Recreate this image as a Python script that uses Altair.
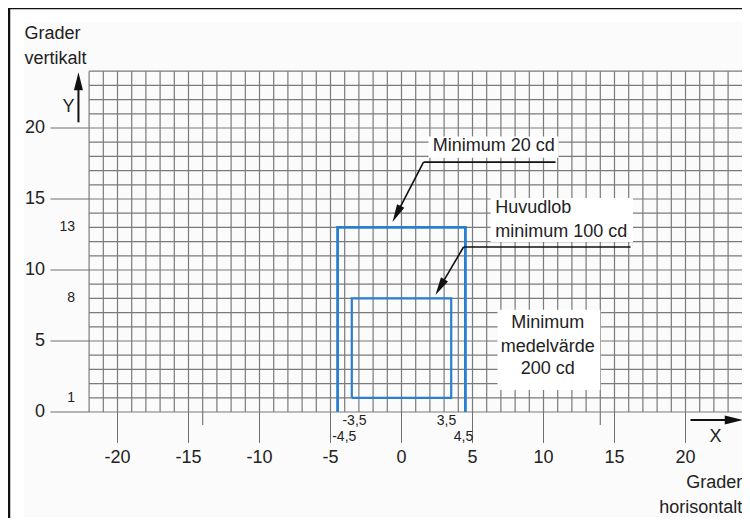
import altair as alt
import pandas as pd

# ---------------- data ----------------
X_TICKS = [-20, -15, -10, -5, 0, 5, 10, 15, 20]
Y_TICKS = [0, 5, 10, 15, 20]
Y_SMALL_LABELS = [1, 8, 13]
GRID_X = list(range(-22, 24))
GRID_Y = list(range(0, 25))
OUTER_X = [-4.5, -4.5, 4.5, 4.5]
OUTER_Y = [0, 13, 13, 0]
INNER_X = [-3.5, -3.5, 3.5, 3.5, -3.5]
INNER_Y = [1, 8, 8, 1, 1]
EDGE_TEXT = ["-3,5", "-4,5", "3,5", "4,5"]
EDGE_X = [-3.31, -4.03, 3.17, 4.37]
EDGE_Y = [-0.63, -1.76, -0.63, -1.76]

# label boxes (data coords)
BOX_X = [1.9, 6.27, 6.76]
BOX_X2 = [11.06, 16.3, 14.0]
BOX_Y = [19.4, 15.07, 7.2]
BOX_Y2 = [17.9, 11.97, 1.55]

# leader lines
LEAD_SEG_X = [1.55, 10.85, 1.55, -0.345, 4.37, 16.13, 4.37, 2.71]
LEAD_SEG_Y = [17.6, 17.6, 17.6, 13.94, 11.62, 11.62, 11.62, 8.79]
LEAD_SEG_ID = [0, 0, 1, 1, 2, 2, 3, 3]
ARROW_X = [-0.345, 2.71]
ARROW_Y = [13.94, 8.79]
ARROW_ANGLE = [207, 210]

W, H = 734, 510
X_DOM = [-393.5 / 14.2, (W - 393.5) / 14.2]
Y_DOM = [(404 - H) / 14.2, 404 / 14.2]

xs = alt.Scale(domain=X_DOM, nice=False, zero=False)
ys = alt.Scale(domain=Y_DOM, nice=False, zero=False)
FONT = "Liberation Sans"
TXT = "#222222"
GRID = "#7a7a7a"
BLUE = "#2a7fd0"


def X(f="x"):
    return alt.X(f"{f}:Q", scale=xs, axis=None)


def Y(f="y"):
    return alt.Y(f"{f}:Q", scale=ys, axis=None)


layers = []

# light background
layers.append(
    alt.Chart(pd.DataFrame({"a": [0]})).mark_rect(color="#fbfbfb").encode(
        x=alt.value(16), x2=alt.value(735), y=alt.value(14), y2=alt.value(509)
    )
)

# grid
gv = pd.DataFrame({"x": GRID_X, "y": 0, "y2": 24})
layers.append(alt.Chart(gv).mark_rule(color=GRID, strokeWidth=1.2).encode(
    x=X(), y=Y(), y2="y2:Q"))
gh = pd.DataFrame({"y": GRID_Y, "x": -22, "x2": 24.1})
layers.append(alt.Chart(gh).mark_rule(color=GRID, strokeWidth=1.2).encode(
    y=Y(), x=X(), x2="x2:Q"))

# extra short lines at ±14
ge = pd.DataFrame({"x": [-14, 14], "y": 0, "y2": -0.92})
layers.append(alt.Chart(ge).mark_rule(color=GRID, strokeWidth=1.2).encode(
    x=X(), y=Y(), y2="y2:Q"))

# axis tick lines
xt = pd.DataFrame({"x": X_TICKS, "y": 0, "y2": -2.18})
layers.append(alt.Chart(xt).mark_rule(color="#6f6f6f", strokeWidth=1).encode(
    x=X(), y=Y(), y2="y2:Q"))
yt = pd.DataFrame({"y": Y_TICKS, "x": -24.72, "x2": -22})
layers.append(alt.Chart(yt).mark_rule(color="#6f6f6f", strokeWidth=1).encode(
    y=Y(), x=X(), x2="x2:Q"))

# white label boxes
bx = pd.DataFrame({"x": BOX_X, "x2": BOX_X2, "y": BOX_Y, "y2": BOX_Y2})
layers.append(alt.Chart(bx).mark_rect(color="white").encode(
    x=X(), x2="x2:Q", y=Y(), y2="y2:Q"))

# blue rectangles
outer = pd.DataFrame({"x": OUTER_X, "y": OUTER_Y, "o": range(len(OUTER_X))})
layers.append(alt.Chart(outer).mark_line(color=BLUE, strokeWidth=2.8).encode(
    x=X(), y=Y(), order="o:Q"))
inner = pd.DataFrame({"x": INNER_X, "y": INNER_Y, "o": range(len(INNER_X))})
layers.append(alt.Chart(inner).mark_line(color=BLUE, strokeWidth=2.2).encode(
    x=X(), y=Y(), order="o:Q"))

# leader lines
ld = pd.DataFrame({"x": LEAD_SEG_X, "y": LEAD_SEG_Y, "id": LEAD_SEG_ID,
                   "o": range(len(LEAD_SEG_X))})
layers.append(alt.Chart(ld).mark_line(color="#111111", strokeWidth=1.6).encode(
    x=X(), y=Y(), detail="id:N", order="o:Q"))
ah = pd.DataFrame({"x": ARROW_X, "y": ARROW_Y, "a": ARROW_ANGLE})
layers.append(alt.Chart(ah).mark_point(
    shape="M0,-1L0.45,1L-0.45,1Z", filled=True, color="#111111", size=324, opacity=1
).encode(x=X(), y=Y(), angle=alt.Angle("a:Q", scale=None)))

# axis arrows
ya = pd.DataFrame({"x": [-22.75], "y": [20.4], "y2": [23.3]})
layers.append(alt.Chart(ya).mark_rule(color="#111111", strokeWidth=2).encode(
    x=X(), y=Y(), y2="y2:Q"))
layers.append(alt.Chart(pd.DataFrame({"x": [-22.75], "y": [23.3]})).mark_point(
    shape="M0,-1L0.5,1L-0.5,1Z", filled=True, color="#111111", size=324, opacity=1
).encode(x=X(), y=Y()))
xa = pd.DataFrame({"x": [20.35], "x2": [23.4], "y": [-0.56]})
layers.append(alt.Chart(xa).mark_rule(color="#111111", strokeWidth=2).encode(
    x=X(), x2="x2:Q", y=Y()))
layers.append(alt.Chart(pd.DataFrame({"x": [23.4], "y": [-0.56]})).mark_point(
    shape="M1,0L-1,-0.5L-1,0.5Z", filled=True, color="#111111", size=324, opacity=1
).encode(x=X(), y=Y()))


def text_layer(df, size, align="center", baseline="middle"):
    return alt.Chart(df).mark_text(
        font=FONT, fontSize=size, color=TXT, align=align, baseline=baseline
    ).encode(x=X(), y=Y(), text="t:N")


# tick labels
layers.append(text_layer(pd.DataFrame({"x": X_TICKS, "y": -3.24,
                                       "t": [str(v) for v in X_TICKS]}), 18))
layers.append(text_layer(pd.DataFrame({"x": -25.1, "y": Y_TICKS,
                                       "t": [str(v) for v in Y_TICKS]}), 18, "right"))
layers.append(text_layer(pd.DataFrame({"x": -22.99, "y": Y_SMALL_LABELS,
                                       "t": [str(v) for v in Y_SMALL_LABELS]}), 14, "right"))
layers.append(text_layer(pd.DataFrame({"x": EDGE_X, "y": EDGE_Y, "t": EDGE_TEXT}), 14))

# axis captions
layers.append(text_layer(pd.DataFrame({"x": -26.55, "y": [26.62, 24.86],
                                       "t": ["Grader", "vertikalt"]}), 18, "left"))
layers.append(text_layer(pd.DataFrame({"x": 24.0, "y": [-5.0, -6.76],
                                       "t": ["Grader", "horisontalt"]}), 18, "right"))
layers.append(text_layer(pd.DataFrame({"x": [-23.45], "y": [21.48], "t": ["Y"]}), 18))
layers.append(text_layer(pd.DataFrame({"x": [22.11], "y": [-1.76], "t": ["X"]}), 18))

# annotations
layers.append(text_layer(pd.DataFrame({"x": [6.5], "y": [18.7], "t": ["Minimum 20 cd"]}), 18))
layers.append(text_layer(pd.DataFrame({"x": 6.6, "y": [14.4, 12.7],
                                       "t": ["Huvudlob", "minimum 100 cd"]}), 18, "left"))
layers.append(text_layer(pd.DataFrame({"x": 10.3, "y": [6.3, 4.55, 3.0],
                                       "t": ["Minimum", "medelvärde", "200 cd"]}), 18))

# frame (top and left)
layers.append(alt.Chart(pd.DataFrame({"a": [0]})).mark_rule(color="#111111", strokeWidth=2.5).encode(
    x=alt.value(0), x2=alt.value(W), y=alt.value(0)))
layers.append(alt.Chart(pd.DataFrame({"a": [0]})).mark_rule(color="#111111", strokeWidth=2.5).encode(
    x=alt.value(1), y=alt.value(0), y2=alt.value(H)))

chart = alt.layer(*layers).properties(
    width=W, height=H, padding=0, autosize="none"
).configure_view(stroke=None).configure(background="white")

chart.save("out.html", embed_options={"renderer": "svg", "actions": False})
